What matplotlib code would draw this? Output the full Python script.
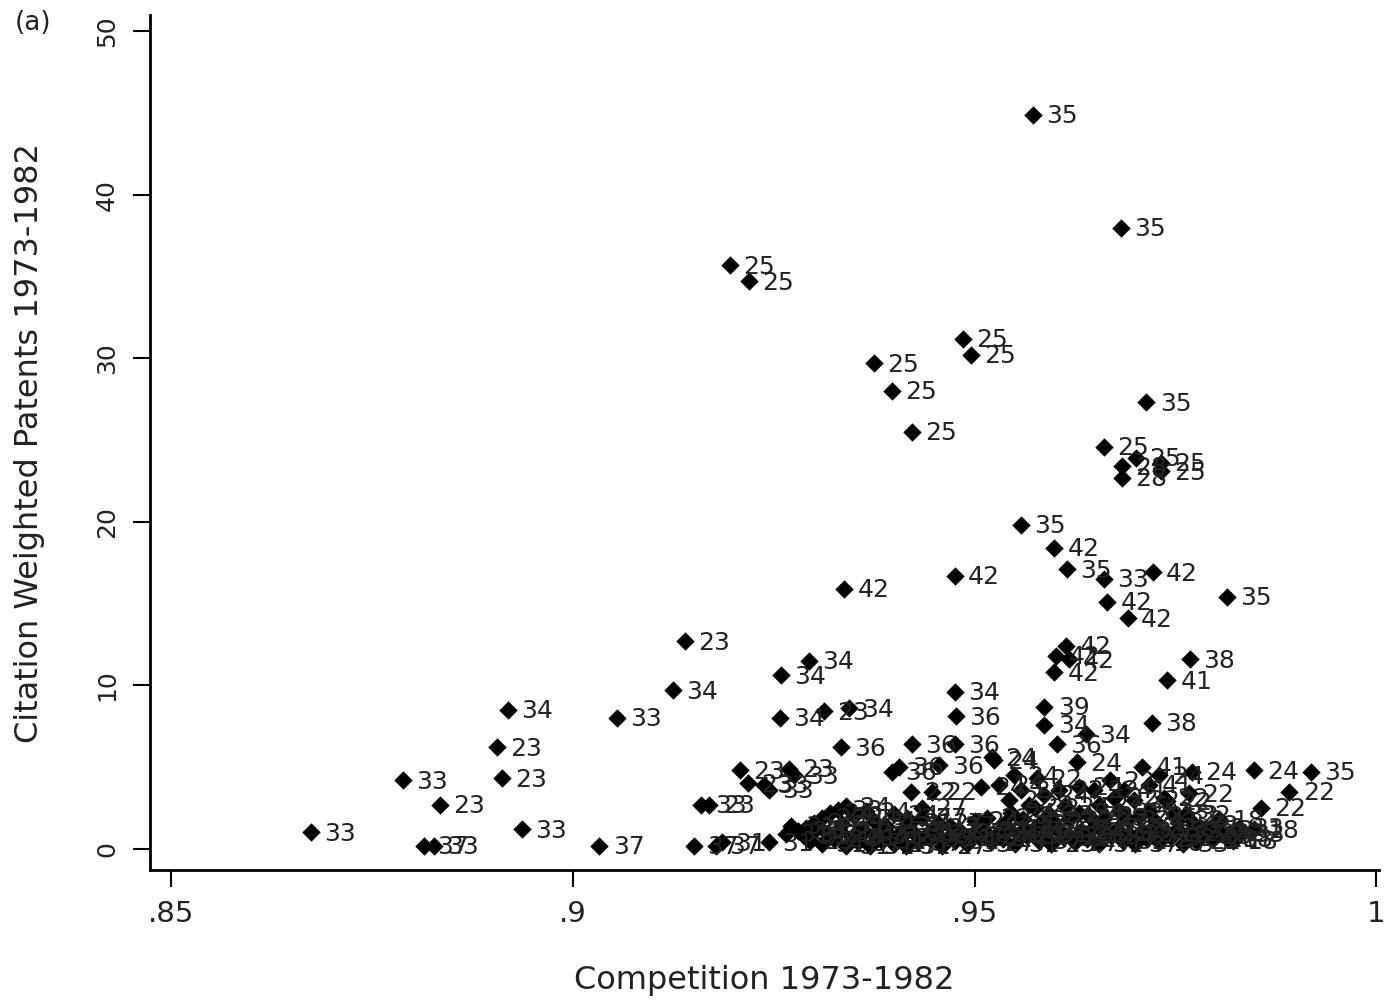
import matplotlib
matplotlib.use('Agg')
import matplotlib.pyplot as plt

# ------------------------------------------------------------------------------
# data: competition, citation weighted patents, industry code

# isolated / readable points
comp_main = [0.9573, 0.9682, 0.9196, 0.9219, 0.9485, 0.9496, 0.9375, 0.9397,
             0.9422, 0.9714, 0.9661, 0.9701, 0.9684, 0.9684, 0.9732, 0.9732,
             0.9558, 0.9599, 0.9615, 0.9661, 0.9722, 0.9475, 0.9665, 0.9691,
             0.9814, 0.9338, 0.9140, 0.9614, 0.9601, 0.9618, 0.9599, 0.9768,
             0.9740, 0.9259, 0.9294, 0.9125, 0.9475, 0.9477, 0.9721, 0.8919,
             0.9055, 0.9258, 0.9313, 0.9344, 0.9587, 0.9587, 0.9639, 0.9603,
             0.8905, 0.8912, 0.8788, 0.8835, 0.8937, 0.8674, 0.8815, 0.8827,
             0.9033]
cwp_main = [44.9, 38.0, 35.7, 34.7, 31.2, 30.2, 29.7, 28.0,
            25.5, 27.3, 24.6, 23.9, 23.4, 22.7, 23.6, 23.1,
            19.8, 18.4, 17.1, 16.5, 16.9, 16.7, 15.1, 14.1,
            15.4, 15.9, 12.7, 12.4, 11.8, 11.6, 10.8, 11.6,
            10.3, 10.6, 11.5, 9.7, 9.6, 8.1, 7.7, 8.5,
            8.0, 8.0, 8.4, 8.6, 8.7, 7.6, 7.0, 6.4,
            6.2, 4.3, 4.2, 2.7, 1.2, 1.0, 0.2, 0.2,
            0.2]
ind_main = ['35', '35', '25', '25', '25', '25', '25', '25',
            '25', '35', '25', '25', '28', '28', '25', '25',
            '35', '42', '35', '33', '42', '42', '42', '42',
            '35', '42', '23', '42', '42', '42', '42', '38',
            '41', '34', '34', '34', '34', '36', '38', '34',
            '33', '34', '23', '34', '39', '34', '34', '36',
            '23', '23', '33', '23', '33', '33', '37', '33',
            '37']

# dense band near the bottom
comp_band = [0.9151, 0.9178, 0.9185, 0.9244, 0.9160, 0.9170, 0.9208, 0.9218,
             0.9238, 0.9244, 0.9269, 0.9275, 0.9334, 0.9422, 0.9475, 0.9406,
             0.9397, 0.9456, 0.9524, 0.9522, 0.9421, 0.9447, 0.9416, 0.9508,
             0.9628, 0.9630, 0.9630, 0.9709, 0.9771, 0.9848, 0.9919, 0.9892,
             0.9857, 0.9767, 0.9763,
             0.9265, 0.9280, 0.9295, 0.9310, 0.9325, 0.9340, 0.9355, 0.9370,
             0.9385, 0.9400, 0.9415, 0.9430, 0.9445, 0.9460, 0.9475, 0.9490,
             0.9505, 0.9520, 0.9535, 0.9550, 0.9565, 0.9580, 0.9595, 0.9610,
             0.9625, 0.9640, 0.9655, 0.9670, 0.9685, 0.9700, 0.9715, 0.9730,
             0.9745, 0.9760, 0.9775, 0.9790, 0.9805, 0.9815, 0.9830,
             0.9290, 0.9300, 0.9310, 0.9320, 0.9330, 0.9340, 0.9335, 0.9350,
             0.9360, 0.9365, 0.9375, 0.9390, 0.9400, 0.9410, 0.9420, 0.9435,
             0.9450, 0.9435,
             0.9531, 0.9543, 0.9549, 0.9558, 0.9568, 0.9578, 0.9587, 0.9593,
             0.9605, 0.9618, 0.9630, 0.9649, 0.9655, 0.9661, 0.9668, 0.9674,
             0.9680, 0.9686, 0.9699, 0.9717, 0.9717, 0.9730, 0.9736, 0.9748,
             0.9773, 0.9792, 0.9804, 0.9829, 0.9848, 0.9537, 0.9562, 0.9580]
cwp_band = [0.2, 0.2, 0.4, 0.4, 2.7, 2.7, 4.8, 4.0,
            3.9, 3.6, 4.9, 4.5, 6.2, 6.4, 6.4, 5.0,
            4.7, 5.1, 5.4, 5.6, 3.5, 3.5, 1.9, 3.8,
            5.3, 3.8, 2.2, 5.0, 4.7, 4.8, 4.7, 3.5,
            2.5, 3.4, 2.1,
            0.9, 1.1, 0.5, 0.3, 0.6, 0.2, 0.4, 0.2,
            0.5, 0.3, 0.2, 0.4, 0.6, 0.2, 0.5, 0.3,
            0.7, 0.4, 0.6, 0.3, 0.8, 0.5, 0.3, 0.7,
            0.4, 0.6, 0.3, 0.8, 0.5, 0.3, 0.6, 0.4,
            0.7, 0.3, 0.5, 0.8, 1.0, 0.6, 0.9,
            1.3, 1.6, 1.9, 2.2, 2.4, 2.6, 1.5, 2.0,
            1.2, 2.3, 1.7, 1.4, 2.1, 1.1, 1.6, 1.9,
            1.3, 2.5,
            3.9, 3.0, 4.5, 3.6, 2.7, 4.3, 3.3, 2.1,
            3.6, 1.8, 0.9, 3.6, 2.7, 1.9, 4.2, 3.1,
            2.3, 3.6, 3.0, 3.9, 2.3, 4.5, 3.1, 2.1,
            1.5, 1.2, 1.8, 1.3, 1.2, 1.5, 1.2, 1.5]
ind_band = ['37', '37', '31', '31', '33', '23', '23', '23',
            '33', '33', '23', '33', '36', '36', '36', '36',
            '36', '36', '24', '24', '22', '22', '27', '24',
            '24', '24', '24', '41', '24', '24', '35', '22',
            '22', '22', '32',
            '31', '31', '23', '31', '24', '31', '37', '31',
            '31', '27', '31', '37', '33', '27', '31', '33',
            '32', '27', '24', '31', '32', '37', '23', '33',
            '27', '22', '31', '24', '32', '37', '22', '18',
            '32', '33', '22', '18', '32', '18', '33',
            '31', '24', '23', '24', '33', '24', '31', '24',
            '27', '24', '31', '23', '24', '33', '31', '27',
            '27', '27',
            '24', '22', '24', '24', '22', '22', '24', '23',
            '22', '32', '33', '22', '27', '23', '22', '22',
            '32', '41', '22', '41', '32', '24', '22', '32',
            '32', '33', '18', '33', '18', '33', '31', '27']

# second pass over the solid black strip along the x axis
comp_strip = [0.9272, 0.9288, 0.9303, 0.9318, 0.9333, 0.9348, 0.9362, 0.9378,
              0.9393, 0.9408, 0.9423, 0.9438, 0.9452, 0.9468, 0.9483, 0.9498,
              0.9512, 0.9528, 0.9543, 0.9557, 0.9572, 0.9588, 0.9603, 0.9617,
              0.9632, 0.9648, 0.9662, 0.9677, 0.9692, 0.9708, 0.9722, 0.9737,
              0.9752, 0.9768, 0.9782, 0.9797, 0.9822,
              0.9455, 0.9470, 0.9500, 0.9515, 0.9545, 0.9560, 0.9575, 0.9598,
              0.9612, 0.9642, 0.9660, 0.9690, 0.9705, 0.9725, 0.9740, 0.9755]
cwp_strip = [1.4, 0.8, 1.2, 0.9, 1.1, 0.7, 1.0, 0.8,
             0.9, 0.7, 1.0, 0.8, 0.9, 0.7, 1.0, 0.8,
             1.1, 0.9, 1.2, 0.8, 1.1, 0.9, 1.2, 0.8,
             1.1, 1.3, 1.0, 1.2, 0.9, 1.1, 1.3, 0.9,
             1.2, 1.0, 1.3, 0.6, 0.5,
             1.6, 1.4, 1.7, 1.9, 2.2, 1.8, 2.5, 1.7,
             2.6, 2.0, 1.6, 1.8, 2.0, 1.7, 2.9, 1.8]
ind_strip = ['31', '31', '37', '31', '27', '31', '33', '31',
             '37', '27', '31', '33', '27', '31', '37', '33',
             '32', '31', '24', '27', '33', '31', '22', '33',
             '24', '27', '31', '22', '32', '33', '22', '18',
             '32', '22', '33', '18', '18',
             '27', '37', '24', '22', '24', '32', '22', '23',
             '24', '22', '27', '32', '22', '41', '22', '32']

comp = comp_main + comp_band + comp_strip
cwp = cwp_main + cwp_band + cwp_strip
ind = ind_main + ind_band + ind_strip

# ------------------------------------------------------------------------------

plt.rcParams['font.family'] = ['DejaVu Sans']

fig = plt.figure(figsize=(13.85, 10.01), dpi=100)
ax = fig.add_axes([0.108, 0.131, 0.888, 0.854])

ax.scatter(comp, cwp, marker='D', s=88, color='black', linewidths=0, zorder=3)
for x, y, lab in zip(comp, cwp, ind):
    ax.annotate(lab, (x, y), xytext=(9.5, -1), textcoords='offset points',
                ha='left', va='center', fontsize=18, color='#222222', zorder=4)

ax.set_xlim(0.8473, 1.0004)
ax.set_ylim(-1.29, 51.0)
ax.set_xticks([0.85, 0.9, 0.95, 1.0])
ax.set_xticklabels(['.85', '.9', '.95', '1'], fontsize=21, color='#222222')
ax.set_yticks([0, 10, 20, 30, 40, 50])
ax.set_yticklabels(['0', '10', '20', '30', '40', '50'], fontsize=18,
                   rotation=90, va='center', color='#222222')
ax.tick_params(axis='both', direction='out', length=12, width=1.5, pad=10)

for side in ['top', 'right']:
    ax.spines[side].set_visible(False)
for side in ['left', 'bottom']:
    ax.spines[side].set_linewidth(2)

ax.set_xlabel('Competition 1973-1982', fontsize=23, color='#222222', labelpad=26)
ax.set_ylabel('Citation Weighted Patents 1973-1982', fontsize=23, color='#222222',
              labelpad=36)
fig.text(0.011, 0.977, '(a)', fontsize=19, color='#222222', ha='left', va='center')

fig.savefig('out.png', dpi=100)
